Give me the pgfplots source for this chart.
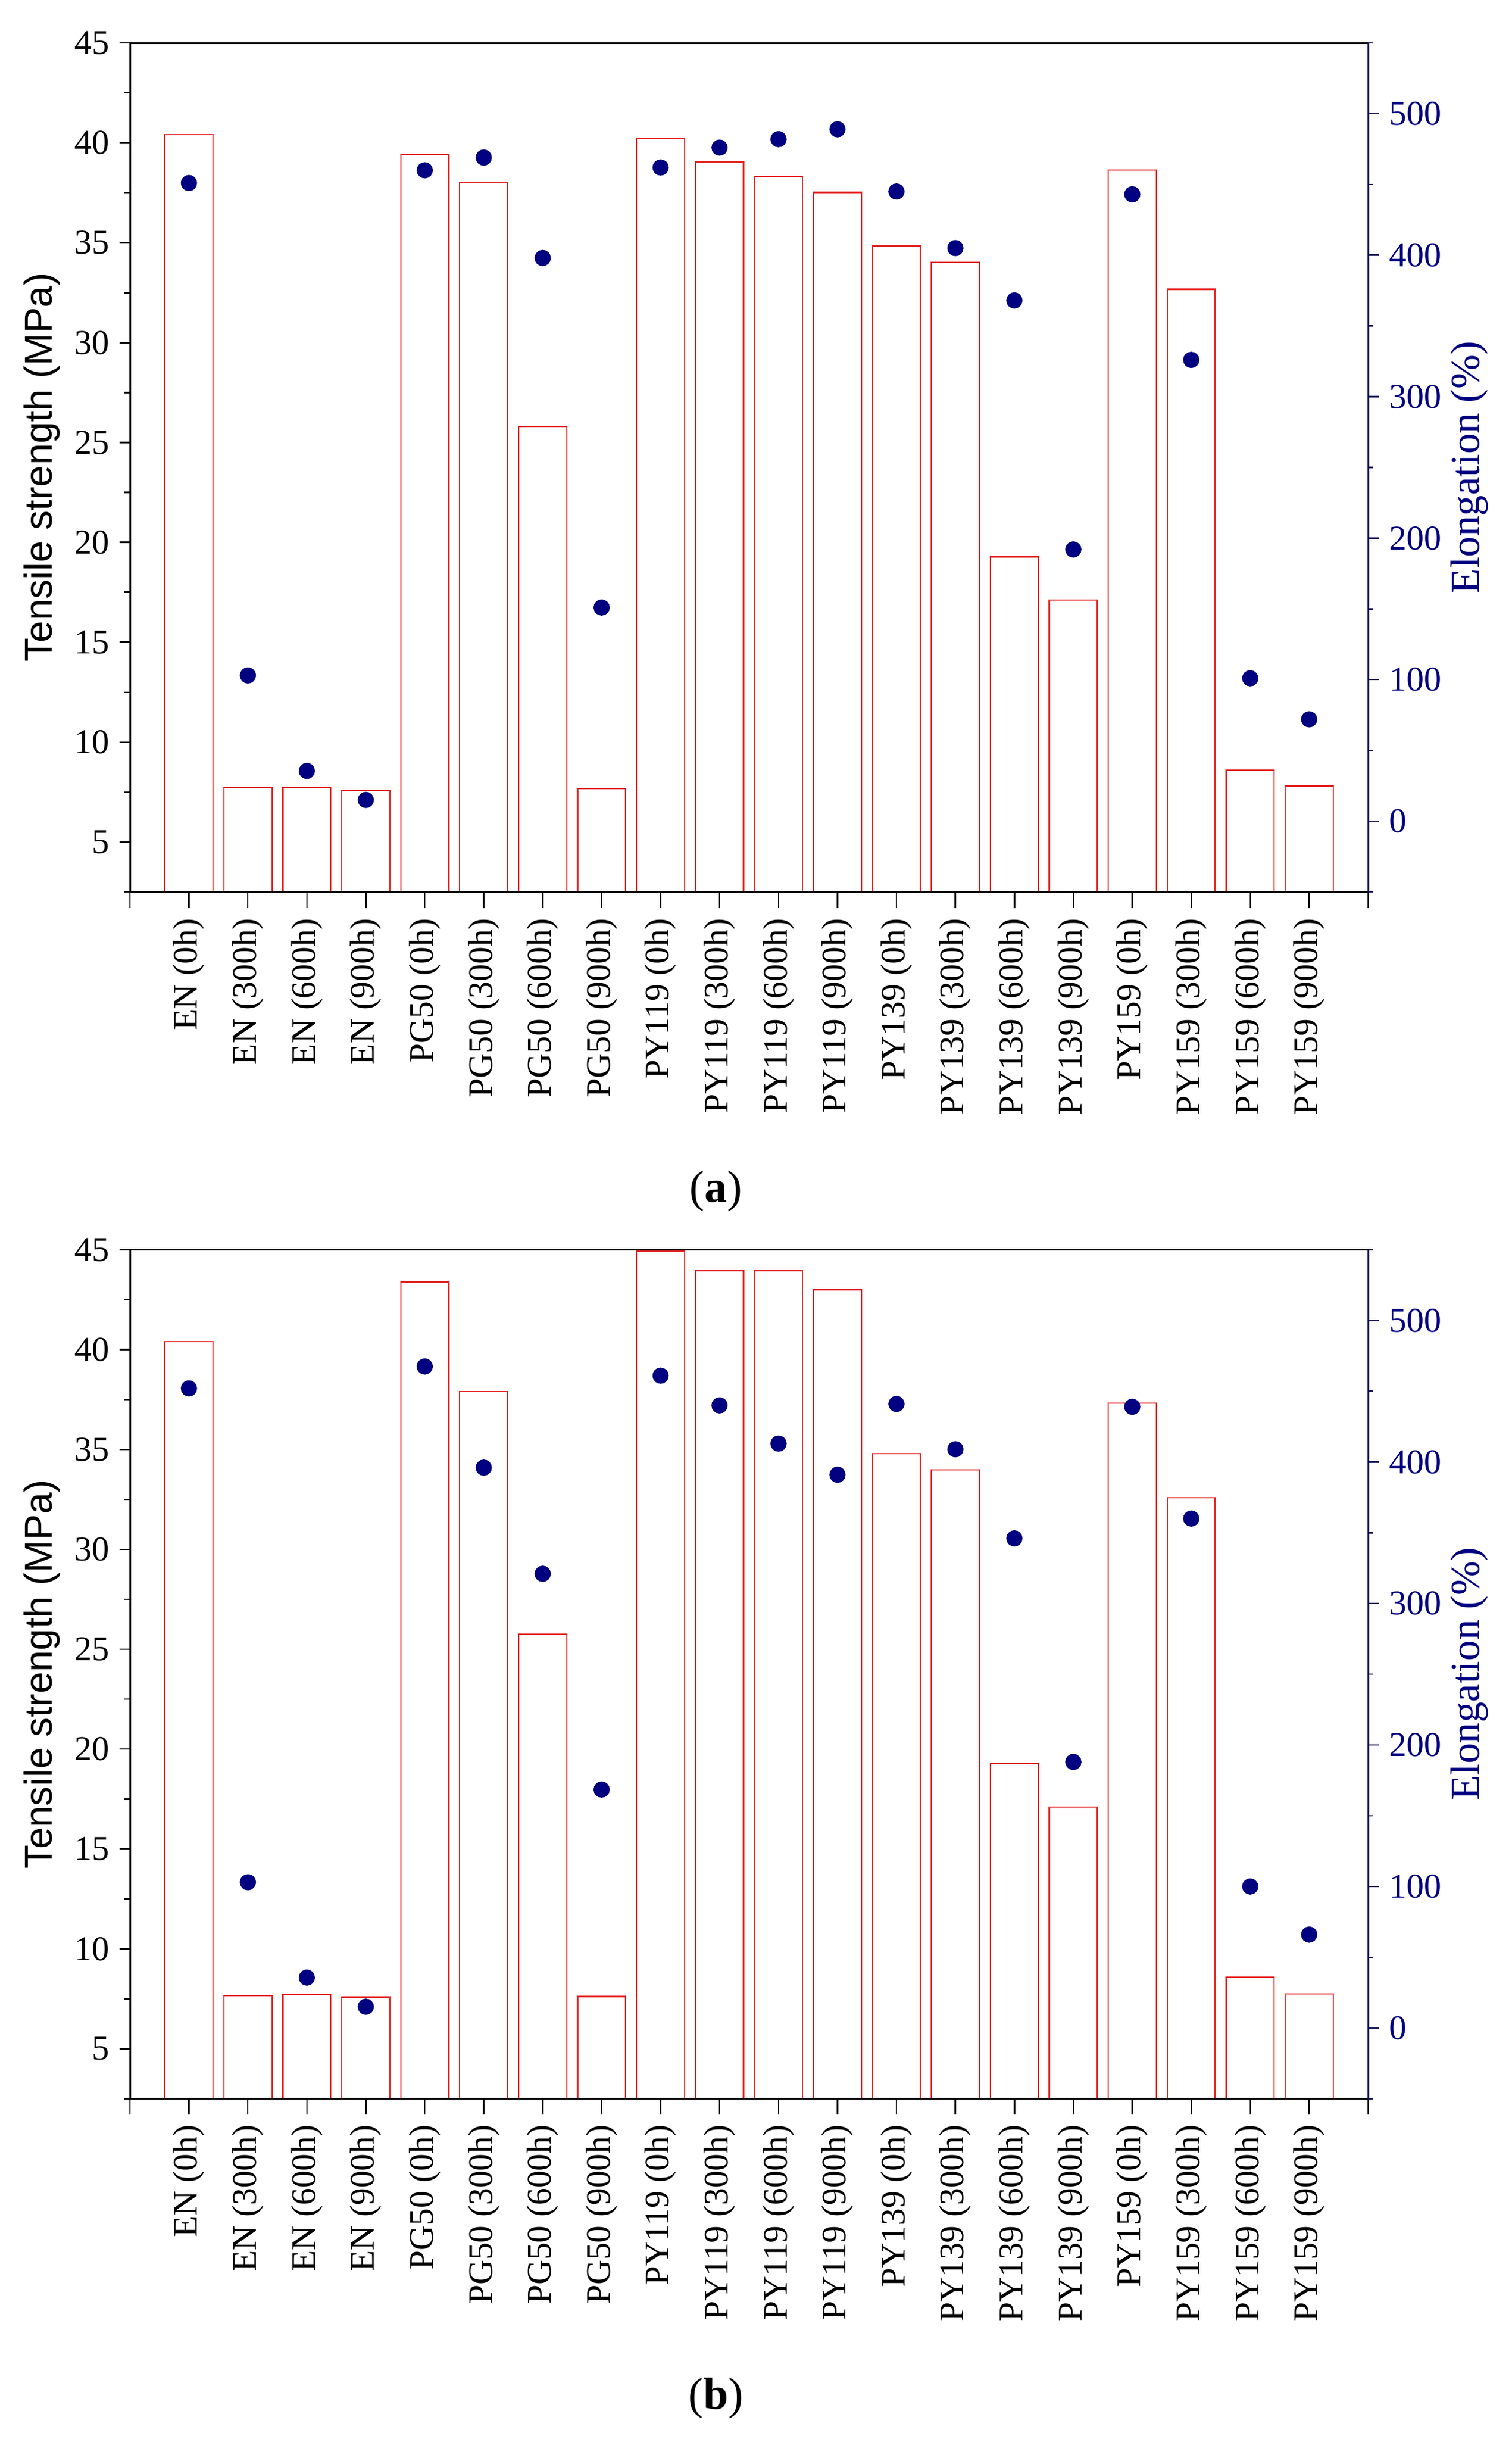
\documentclass[border=0pt]{standalone}
\usepackage{fontspec}
\setmainfont{Liberation Serif}
\newfontfamily\sansA{Liberation Sans}
\usepackage{pgfplots}
\usepackage{pgfplotstable}
\pgfplotsset{compat=1.18}
\definecolor{barred}{RGB}{230,35,35}
\definecolor{dotnavy}{RGB}{0,0,128}
\definecolor{axnavy}{RGB}{20,20,90}

\pgfplotstableread{
x ts el
1 40.40 451
2 7.73 103
3 7.74 35.5
4 7.58 15
5 39.43 460
6 37.99 469
7 25.80 398
8 7.67 151
9 40.21 462
10 39.03 476
11 38.31 482
12 37.52 489
13 34.85 445
14 34.03 405
15 19.28 368
16 17.12 192
17 38.63 443
18 32.67 326
19 8.60 101
20 7.80 72
}\dataA

\pgfplotstableread{
x ts el
1 40.40 452
2 7.66 103
3 7.72 35.6
4 7.59 15
5 43.38 467.5
6 37.91 396
7 25.76 321
8 7.62 168.5
9 44.93 461
10 43.96 440
11 43.96 413
12 43.00 391
13 34.80 441
14 33.98 409
15 19.28 346
16 17.11 188
17 37.32 439
18 32.59 360
19 8.60 100
20 7.75 66
}\dataB

\pgfplotsset{
 base/.style={width=426.8pt,height=292.6pt,scale only axis,anchor=north west,
   xmin=0,xmax=21,
   /pgf/number format/assume math mode=true,
   tick align=outside,
   axis line style={line width=0.6pt},
   every tick/.append style={line width=0.5pt,black}},
 barax/.style={base,ymin=2.5,ymax=45,
   ytick={5,10,...,45},
   yticklabels={5,10,15,20,25,30,35,40,45},
   minor ytick={2.5,7.5,...,42.5},
   ytick pos=left,xtick=\empty,
   major tick length=3.6pt,minor tick length=2pt,
   yticklabel style={font=\fontsize{12}{14}\selectfont},
   ylabel={\sansA Tensile strength (MPa)},
   every axis y label/.style={at={(axis description cs:-0.0712,0.5)},rotate=90,anchor=center,
     font=\fontsize{13.4}{16}\selectfont}},
 xax/.style={base,ymin=0,ymax=1,
   axis x line*=bottom,axis y line=none,
   xtick={1,...,20},
   xticklabels={EN (0h),EN (300h),EN (600h),EN (900h),
     PG50 (0h),PG50 (300h),PG50 (600h),PG50 (900h),
     PY119 (0h),PY119 (300h),PY119 (600h),PY119 (900h),
     PY139 (0h),PY139 (300h),PY139 (600h),PY139 (900h),
     PY159 (0h),PY159 (300h),PY159 (600h),PY159 (900h)},
   extra x ticks={0,21},extra x tick labels={},
   major tick length=5.5pt,
   xticklabel style={rotate=90,anchor=east,font=\fontsize{11.9}{14}\selectfont}},
 dotax/.style={base,ymin=-50,ymax=550,
   axis y line*=right,axis x line=none,
   ytick={0,100,...,500},
   yticklabels={0,100,200,300,400,500},
   minor ytick={-50,50,...,550},
   major tick length=3.8pt,minor tick length=1.8pt,
   y axis line style={draw=axnavy},
   ytick style={draw=axnavy},
   yticklabel style={text=dotnavy,font=\fontsize{12}{14}\selectfont},
   ylabel={Elongation (\%)},
   every axis y label/.style={at={(axis description cs:1.082,0.5)},rotate=90,anchor=center,
     text=dotnavy,font=\fontsize{14.2}{17}\selectfont}},
}

\begin{document}
\begin{tikzpicture}
\useasboundingbox (0pt,0pt) rectangle (521.2pt,-840.6pt);

% ---------- panel (a) ----------
\begin{axis}[barax,at={(44.8pt,-14.8pt)}]
\addplot[ybar,bar width=0.815,draw=barred,fill=none,line width=0.45pt] table[x=x,y=ts]{\dataA};
\end{axis}
\begin{axis}[xax,at={(44.8pt,-14.8pt)}]
\end{axis}
\begin{axis}[dotax,at={(44.8pt,-14.8pt)}]
\addplot[only marks,mark=*,mark size=2.6pt,color=dotnavy] table[x=x,y=el]{\dataA};
\end{axis}
\node[font=\fontsize{15.5}{18}\selectfont] at (246.8pt,-410.6pt) {(\textbf{a})};

% ---------- panel (b) ----------
\begin{axis}[barax,at={(44.8pt,-430.72pt)}]
\addplot[ybar,bar width=0.815,draw=barred,fill=none,line width=0.45pt] table[x=x,y=ts]{\dataB};
\end{axis}
\begin{axis}[xax,at={(44.8pt,-430.72pt)}]
\end{axis}
\begin{axis}[dotax,at={(44.8pt,-430.72pt)}]
\addplot[only marks,mark=*,mark size=2.6pt,color=dotnavy] table[x=x,y=el]{\dataB};
\end{axis}
\node[font=\fontsize{15.5}{18}\selectfont] at (246.8pt,-826.6pt) {(\textbf{b})};
\end{tikzpicture}
\end{document}
